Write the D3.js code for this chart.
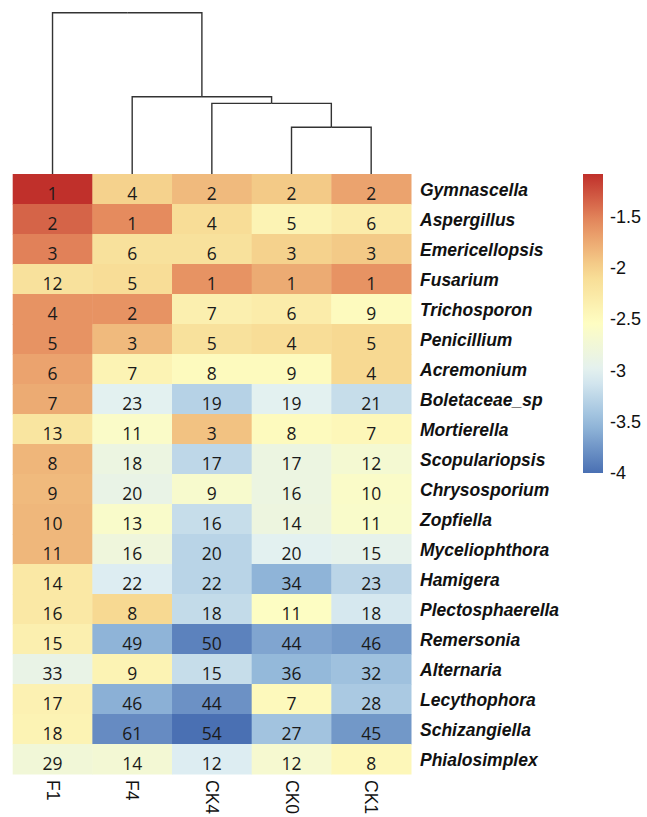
<!DOCTYPE html>
<html>
<head>
<meta charset="utf-8">
<script src="https://cdn.jsdelivr.net/npm/d3@7"></script>
<style>
  body { margin: 0; background: #fff; }
</style>
</head>
<body>
<svg id="chart" width="647" height="817"></svg>
<script>
// samples (columns) and genera (rows)
const samples = ['F1', 'F4', 'CK4', 'CK0', 'CK1'];
const genera = ['Gymnascella', 'Aspergillus', 'Emericellopsis', 'Fusarium', 'Trichosporon',
  'Penicillium', 'Acremonium', 'Boletaceae_sp', 'Mortierella', 'Scopulariopsis',
  'Chrysosporium', 'Zopfiella', 'Myceliophthora', 'Hamigera', 'Plectosphaerella',
  'Remersonia', 'Alternaria', 'Lecythophora', 'Schizangiella', 'Phialosimplex'];

// log10 relative abundance (F1, F4, CK4, CK0, CK1)
const abundance = [
  [-1.08, -2.00, -1.85, -1.95, -1.70],
  [-1.35, -1.55, -2.10, -2.40, -2.30],
  [-1.50, -2.15, -2.15, -2.00, -1.95],
  [-2.15, -2.10, -1.60, -1.75, -1.60],
  [-1.60, -1.60, -2.35, -2.30, -2.50],
  [-1.60, -1.85, -2.15, -2.10, -2.05],
  [-1.70, -2.40, -2.50, -2.50, -2.05],
  [-1.75, -3.00, -3.30, -3.00, -3.20],
  [-2.20, -2.60, -1.90, -2.50, -2.45],
  [-1.82, -2.85, -3.25, -2.85, -2.70],
  [-1.85, -2.90, -2.65, -2.85, -2.60],
  [-1.83, -2.62, -3.20, -2.83, -2.62],
  [-1.83, -2.80, -3.28, -3.00, -2.95],
  [-2.25, -3.05, -3.28, -3.55, -3.27],
  [-2.25, -2.05, -3.22, -2.55, -3.10],
  [-2.35, -3.55, -3.88, -3.65, -3.72],
  [-2.90, -2.40, -3.20, -3.52, -3.45],
  [-2.38, -3.58, -3.78, -2.48, -3.38],
  [-2.40, -3.82, -4.00, -3.43, -3.74],
  [-2.75, -2.72, -3.05, -2.68, -2.45]
];

// rank numbers printed in the cells
const ranks = [
  [1, 4, 2, 2, 2],
  [2, 1, 4, 5, 6],
  [3, 6, 6, 3, 3],
  [12, 5, 1, 1, 1],
  [4, 2, 7, 6, 9],
  [5, 3, 5, 4, 5],
  [6, 7, 8, 9, 4],
  [7, 23, 19, 19, 21],
  [13, 11, 3, 8, 7],
  [8, 18, 17, 17, 12],
  [9, 20, 9, 16, 10],
  [10, 13, 16, 14, 11],
  [11, 16, 20, 20, 15],
  [14, 22, 22, 34, 23],
  [16, 8, 18, 11, 18],
  [15, 49, 50, 44, 46],
  [33, 9, 15, 36, 32],
  [17, 46, 44, 7, 28],
  [18, 61, 54, 27, 45],
  [29, 14, 12, 12, 8]
];

const legendTicks = [-1.5, -2, -2.5, -3, -3.5, -4];
const palette = ['#4a70b3', '#95badb', '#e1f0f3', '#fefdc2', '#f7da92', '#e68e60', '#c0302b'];

// column clustering (relative merge heights)
const tree = {
  height: 1.0, children: [
    { name: 'F1' },
    { height: 0.479, children: [
      { name: 'F4' },
      { height: 0.438, children: [
        { name: 'CK4' },
        { height: 0.29, children: [{ name: 'CK0' }, { name: 'CK1' }] }
      ] }
    ] }
  ]
};

const svg = d3.select('#chart');

const area = { left: 12.7, right: 411, top: 174, bottom: 774 };

const xScale = d3.scaleBand().domain(samples).range([area.left, area.right]);
const yScale = d3.scaleBand().domain(genera).range([area.top, area.bottom]);

const cells = genera.flatMap((g, i) =>
  samples.map((s, j) => ({ genus: g, sample: s, value: abundance[i][j], rank: ranks[i][j] })));

const [vmin, vmax] = d3.extent(cells, (d) => d.value);
const color = d3.scaleLinear()
  .domain(d3.range(palette.length).map((k) => vmin + (vmax - vmin) * k / (palette.length - 1)))
  .range(palette)
  .interpolate(d3.interpolateRgb);

// heatmap cells
svg.append('g')
  .selectAll('rect')
  .data(cells)
  .join('rect')
  .attr('x', (d) => xScale(d.sample))
  .attr('y', (d) => yScale(d.genus))
  .attr('width', xScale.bandwidth() + 0.5)
  .attr('height', yScale.bandwidth() + 0.5)
  .attr('fill', (d) => color(d.value));

svg.append('g')
  .selectAll('text')
  .data(cells)
  .join('text')
  .attr('x', (d) => xScale(d.sample) + xScale.bandwidth() / 2)
  .attr('y', (d) => yScale(d.genus) + 25.5)
  .attr('text-anchor', 'middle')
  .style('font-family', '"Open Sans", Lato, sans-serif')
  .style('font-size', '17.5px')
  .attr('fill', '#1a1a1a')
  .text((d) => d.rank);

// row labels
svg.append('g')
  .selectAll('text')
  .data(genera)
  .join('text')
  .attr('x', 420)
  .attr('y', (d) => yScale(d) + 22)
  .style('font-family', '"Liberation Sans", Arial, sans-serif')
  .style('font-size', '17.5px')
  .style('font-weight', 'bold')
  .style('font-style', 'italic')
  .attr('fill', '#111')
  .text((d) => d);

// column labels (rotated)
svg.append('g')
  .selectAll('text')
  .data(samples)
  .join('text')
  .attr('transform', (d) => `translate(${xScale(d) + xScale.bandwidth() / 2},780) rotate(90)`)
  .attr('dominant-baseline', 'central')
  .style('font-family', '"Liberation Sans", Arial, sans-serif')
  .style('font-size', '17.5px')
  .attr('fill', '#111')
  .text((d) => d);

// dendrogram
const hScale = d3.scaleLinear().domain([0, 1]).range([area.top, 12.7]);
const root = d3.hierarchy(tree);
root.eachAfter((n) => {
  n.px = n.children ? d3.mean(n.children, (c) => c.px) : xScale(n.data.name) + xScale.bandwidth() / 2;
  n.py = n.children ? hScale(n.data.height) : area.top;
});
svg.append('g')
  .selectAll('path')
  .data(root.links())
  .join('path')
  .attr('d', (l) => `M${l.target.px},${l.target.py}V${l.source.py}H${l.source.px}`)
  .attr('fill', 'none')
  .attr('stroke', '#333')
  .attr('stroke-width', 1.4);

// colour legend
const legendScale = d3.scaleLinear().domain([vmin, vmax]).range([473, area.top]);
const grad = svg.append('defs').append('linearGradient')
  .attr('id', 'lg').attr('x1', 0).attr('y1', 1).attr('x2', 0).attr('y2', 0);
grad.selectAll('stop')
  .data(d3.range(0, 1.0001, 0.05))
  .join('stop')
  .attr('offset', (t) => t)
  .attr('stop-color', (t) => color(vmin + t * (vmax - vmin)));

svg.append('rect')
  .attr('x', 583)
  .attr('y', legendScale(vmax))
  .attr('width', 20)
  .attr('height', legendScale(vmin) - legendScale(vmax))
  .attr('fill', 'url(#lg)');

svg.append('g')
  .selectAll('text')
  .data(legendTicks)
  .join('text')
  .attr('x', 610)
  .attr('y', (d) => legendScale(d))
  .attr('dominant-baseline', 'central')
  .style('font-family', '"Liberation Sans", Arial, sans-serif')
  .style('font-size', '18px')
  .attr('fill', '#111')
  .text((d) => d);
</script>
</body>
</html>
